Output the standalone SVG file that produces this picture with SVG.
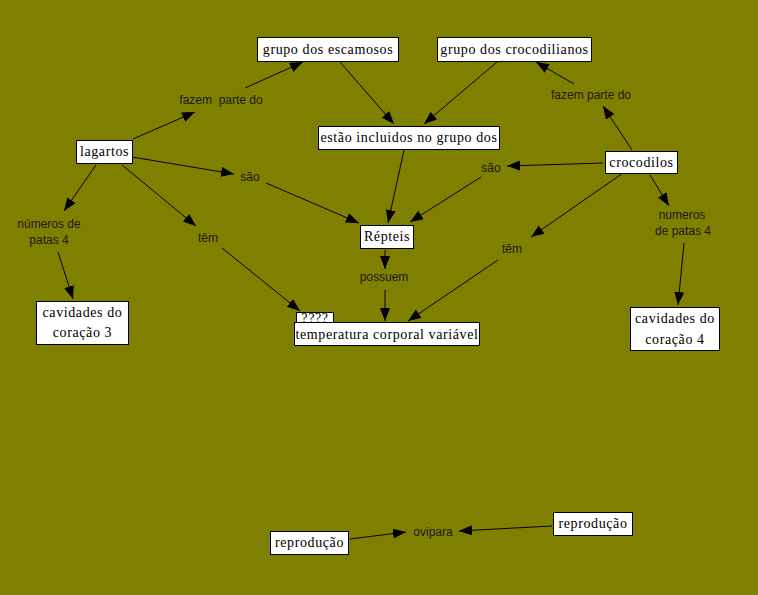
<svg xmlns="http://www.w3.org/2000/svg" width="758" height="595" viewBox="0 0 758 595">
<defs>
<marker id="ah" markerUnits="userSpaceOnUse" markerWidth="14" markerHeight="12" refX="13" refY="5" orient="auto">
<path d="M0,0 L13,5 L0,10 Z" fill="#000"/>
</marker>
<style>
.box{fill:#fff;stroke:#000;stroke-width:1}
.nt{font-family:"Liberation Serif",serif;font-size:14px;letter-spacing:0.6px;fill:#000;text-anchor:middle}
.lt{font-family:"Liberation Sans",Arial,sans-serif;font-size:12px;fill:#1a1a1a;text-anchor:middle;white-space:pre}
.c{stroke:#000;stroke-width:1;fill:none;marker-end:url(#ah)}
</style>
</defs>
<rect x="0" y="0" width="758" height="595" fill="#808000"/>
<g id="connectors">
<line class="c" x1="133" y1="139" x2="195" y2="112"/>
<line class="c" x1="245" y1="88" x2="303" y2="62"/>
<line class="c" x1="340" y1="62" x2="394" y2="124"/>
<line class="c" x1="497" y1="62" x2="424" y2="124"/>
<line class="c" x1="632" y1="150" x2="603" y2="106"/>
<line class="c" x1="574" y1="84" x2="536" y2="62"/>
<line class="c" x1="404" y1="150" x2="388" y2="223"/>
<line class="c" x1="132" y1="157" x2="234" y2="174"/>
<line class="c" x1="266" y1="183" x2="359" y2="223"/>
<line class="c" x1="603" y1="163" x2="507" y2="166"/>
<line class="c" x1="481" y1="177" x2="410" y2="222"/>
<line class="c" x1="385" y1="250" x2="385" y2="269"/>
<line class="c" x1="385" y1="290" x2="385" y2="321"/>
<line class="c" x1="122" y1="165" x2="196" y2="226"/>
<line class="c" x1="222" y1="248" x2="300" y2="311"/>
<line class="c" x1="96" y1="165" x2="64" y2="211"/>
<line class="c" x1="58" y1="252" x2="73" y2="299"/>
<line class="c" x1="623" y1="173" x2="531" y2="237"/>
<line class="c" x1="498" y1="260" x2="408" y2="321"/>
<line class="c" x1="650" y1="175" x2="669" y2="206"/>
<line class="c" x1="684" y1="243" x2="678" y2="305"/>
<line class="c" x1="350" y1="539" x2="406" y2="532"/>
<line class="c" x1="552" y1="526" x2="459" y2="531"/>
</g>
<g id="lbl-fazem1"><text class="lt" x="221" y="104" xml:space="preserve">fazem  parte do</text></g>
<g id="lbl-fazem2"><text class="lt" x="591" y="99">fazem parte do</text></g>
<g id="lbl-sao1"><text class="lt" x="250" y="181">são</text></g>
<g id="lbl-sao2"><text class="lt" x="491" y="172">são</text></g>
<g id="lbl-numeros1"><text class="lt" x="49" y="228">números de</text><text class="lt" x="49" y="244">patas 4</text></g>
<g id="lbl-tem1"><text class="lt" x="208" y="242">têm</text></g>
<g id="lbl-possuem"><text class="lt" x="384" y="281">possuem</text></g>
<g id="lbl-tem2"><text class="lt" x="512" y="253">têm</text></g>
<g id="lbl-numeros2"><text class="lt" x="682" y="219">numeros</text><text class="lt" x="683" y="235">de patas 4</text></g>
<g id="lbl-ovipara"><text class="lt" x="433" y="536">ovipara</text></g>
<g id="n-escamosos"><rect class="box" x="257.500" y="37.500" width="141" height="24"/><text class="nt" x="328" y="54">grupo dos escamosos</text></g>
<g id="n-crocodilianos"><rect class="box" x="437.500" y="37.500" width="154" height="24"/><text class="nt" x="514.500" y="54">grupo dos crocodilianos</text></g>
<g id="n-estao"><rect class="box" x="318.500" y="126.500" width="181" height="23"/><text class="nt" x="409" y="142">estão incluidos no grupo dos</text></g>
<g id="n-lagartos"><rect class="box" x="76.500" y="140.500" width="56" height="23"/><text class="nt" x="104.500" y="156">lagartos</text></g>
<g id="n-crocodilos"><rect class="box" x="605.500" y="151.500" width="72" height="22"/><text class="nt" x="641.500" y="167">crocodilos</text></g>
<g id="n-repteis"><rect class="box" x="360.500" y="225.500" width="53" height="23"/><text class="nt" x="387" y="241">Répteis</text></g>
<g id="n-cav3"><rect class="box" x="36.500" y="301.500" width="92" height="43"/><text class="nt" x="82.500" y="317">cavidades do</text><text class="nt" x="82.500" y="337">coração 3</text></g>
<g id="n-cav4"><rect class="box" x="630.500" y="307.500" width="89" height="43"/><text class="nt" x="675" y="323">cavidades do</text><text class="nt" x="675" y="344">coração 4</text></g>
<g id="n-q"><rect class="box" x="296.500" y="312.500" width="37" height="15"/><text class="nt" x="315" y="323">????</text></g>
<g id="n-temp"><rect class="box" x="294.500" y="322.500" width="185" height="23"/><text class="nt" x="387" y="339">temperatura corporal variável</text></g>
<g id="n-rep1"><rect class="box" x="270.500" y="531.500" width="78" height="23"/><text class="nt" x="309.500" y="547">reprodução</text></g>
<g id="n-rep2"><rect class="box" x="553.500" y="512.500" width="79" height="23"/><text class="nt" x="593" y="528">reprodução</text></g>
</svg>
